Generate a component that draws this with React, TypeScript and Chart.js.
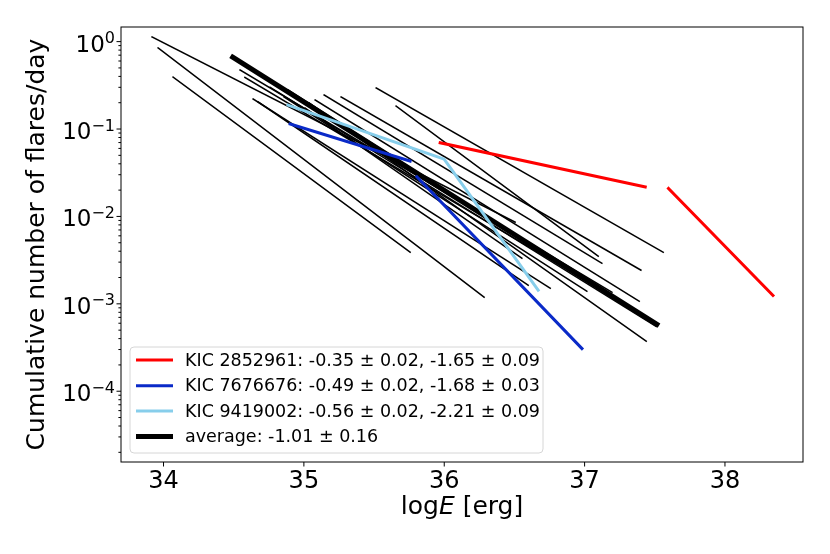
import React, { useEffect, useRef } from 'react';
import Chart from 'chart.js/auto';

// axis ranges and ticks
const xMin = 33.697;
const xMax = 38.556;
const yMin = 1.55e-5;
const yMax = 1.47;
const xTicks = [34, 35, 36, 37, 38];
const yMajorTicks = [1e-4, 1e-3, 1e-2, 1e-1, 1];
const yTickExponents = ['−4', '−3', '−2', '−1', '0'];

// single star fits (thin black): start / end of each line
const starLogEStart = [34.068, 33.961, 35.515, 35.657, 33.918, 34.638, 34.674, 34.859, 34.887, 35.037, 35.080, 35.144, 35.265, 35.009, 34.545, 34.580, 34.760];
const starRateStart = [0.394, 0.847, 0.295, 0.183, 1.132, 0.221, 0.204, 0.233, 0.280, 0.199, 0.215, 0.245, 0.233, 0.174, 0.474, 0.390, 0.300];
const starLogEEnd = [35.757, 36.284, 37.560, 37.097, 36.505, 36.755, 36.598, 37.016, 37.489, 37.439, 37.389, 37.123, 37.401, 36.553, 37.195, 37.460, 37.510];
const starRateEnd = [0.0039, 0.00119, 0.0039, 0.00351, 0.0086, 0.00151, 0.00163, 0.00139, 0.000615, 0.000373, 0.00107, 0.00292, 0.00243, 0.00333, 0.00136, 0.00068, 0.00055];

// average
const avgLogE = [34.493, 37.515];
const avgRate = [0.663, 0.000584];

// KIC 2852961 (broken power law)
const kic2852961LogE1 = [35.971, 37.432];
const kic2852961Rate1 = [0.0697, 0.0218];
const kic2852961LogE2 = [37.598, 38.342];
const kic2852961Rate2 = [0.0209, 0.00125];

// KIC 7676676
const kic7676676LogE1 = [34.902, 35.757];
const kic7676676Rate1 = [0.114, 0.043];
const kic7676676LogE2 = [35.805, 36.981];
const kic7676676Rate2 = [0.0284, 0.000308];

// KIC 9419002
const kic9419002LogE = [34.887, 35.999, 36.669];
const kic9419002Rate = [0.188, 0.0453, 0.00143];

const legendLabels = [
    'KIC 2852961: -0.35 ± 0.02, -1.65 ± 0.09',
    'KIC 7676676: -0.49 ± 0.02, -1.68 ± 0.03',
    'KIC 9419002: -0.56 ± 0.02, -2.21 ± 0.09',
    'average: -1.01 ± 0.16',
];
const legendColors = ['#ff0000', '#0a2ac8', '#87ceeb', '#000000'];
const legendWidths = [3, 3, 3, 5];

const FONT = '"DejaVu Sans", sans-serif';

const toPoints = (xs: number[], ys: number[]) => xs.map((x, i) => ({ x, y: ys[i] }));

const yMinorTicks: number[] = [];
for (let p = -5; p <= 0; p++) {
    for (let k = 2; k <= 9; k++) {
        const v = k * Math.pow(10, p);
        if (v >= yMin && v <= yMax) yMinorTicks.push(v);
    }
}

const decorPlugin = {
    id: 'decor',
    afterDraw(chart: any) {
        const { ctx, chartArea: a, scales } = chart;
        ctx.save();

        // frame
        ctx.strokeStyle = '#000';
        ctx.lineWidth = 1;
        ctx.strokeRect(a.left, a.top, a.right - a.left, a.bottom - a.top);

        // tick marks
        ctx.beginPath();
        xTicks.forEach(v => {
            const px = scales.x.getPixelForValue(v);
            ctx.moveTo(px, a.bottom);
            ctx.lineTo(px, a.bottom + 4.5);
        });
        yMajorTicks.forEach(v => {
            const py = scales.y.getPixelForValue(v);
            ctx.moveTo(a.left - 4.5, py);
            ctx.lineTo(a.left, py);
        });
        yMinorTicks.forEach(v => {
            const py = scales.y.getPixelForValue(v);
            ctx.moveTo(a.left - 2.6, py);
            ctx.lineTo(a.left, py);
        });
        ctx.stroke();

        // y tick labels: 10 with raised exponent
        ctx.fillStyle = '#000';
        ctx.textBaseline = 'alphabetic';
        ctx.textAlign = 'left';
        yMajorTicks.forEach((v, i) => {
            const py = scales.y.getPixelForValue(v);
            ctx.font = `16px ${FONT}`;
            const ew = ctx.measureText(yTickExponents[i]).width;
            ctx.font = `23px ${FONT}`;
            const bw = ctx.measureText('10').width;
            const x0 = a.left - 6 - ew - bw;
            ctx.fillText('10', x0, py + 10);
            ctx.font = `16px ${FONT}`;
            ctx.fillText(yTickExponents[i], x0 + bw, py + 1.5);
        });

        // x label with italic E
        const parts = [
            { t: 'log', f: `25px ${FONT}` },
            { t: 'E', f: `italic 25px ${FONT}` },
            { t: ' [erg]', f: `25px ${FONT}` },
        ];
        let total = 0;
        parts.forEach(p => { ctx.font = p.f; total += ctx.measureText(p.t).width; });
        let cx = (a.left + a.right) / 2 - total / 2;
        parts.forEach(p => {
            ctx.font = p.f;
            ctx.fillText(p.t, cx, 514);
            cx += ctx.measureText(p.t).width;
        });

        // y label
        ctx.save();
        ctx.translate(37, (a.top + a.bottom) / 2);
        ctx.rotate(-Math.PI / 2);
        ctx.textAlign = 'center';
        ctx.textBaseline = 'middle';
        ctx.font = `25px ${FONT}`;
        ctx.fillText('Cumulative number of flares/day', 0, 0);
        ctx.restore();

        // legend
        const bx = 130, by = 347, bw = 413, bh = 106;
        ctx.beginPath();
        ctx.roundRect(bx, by, bw, bh, 4);
        ctx.fillStyle = 'rgba(255,255,255,0.8)';
        ctx.fill();
        ctx.strokeStyle = '#d6d6d6';
        ctx.lineWidth = 1;
        ctx.stroke();
        const rowsY = [360, 385.7, 411, 436.5];
        legendLabels.forEach((label, i) => {
            ctx.beginPath();
            ctx.strokeStyle = legendColors[i];
            ctx.lineWidth = legendWidths[i];
            ctx.lineCap = 'butt';
            ctx.moveTo(136, rowsY[i]);
            ctx.lineTo(173, rowsY[i]);
            ctx.stroke();
            ctx.fillStyle = '#000';
            ctx.font = `17.5px ${FONT}`;
            ctx.textAlign = 'left';
            ctx.textBaseline = 'middle';
            ctx.fillText(label, 185, rowsY[i] + 1);
        });

        ctx.restore();
    },
};

const lineSet = (data: { x: number; y: number }[], color: string, width: number) => ({
    data,
    borderColor: color,
    borderWidth: width,
    pointRadius: 0,
    showLine: true,
    fill: false,
    tension: 0,
    borderCapStyle: 'square' as const,
    borderJoinStyle: 'round' as const,
});

const App: React.FC = () => {
    const canvasRef = useRef<HTMLCanvasElement>(null);
    const chartRef = useRef<Chart>();

    useEffect(() => {
        document.body.style.margin = '0';
        if (!canvasRef.current) return;
        if (chartRef.current) chartRef.current.destroy();

        const datasets: any[] = [
            lineSet(toPoints(kic9419002LogE, kic9419002Rate), '#87ceeb', 3),
            lineSet(toPoints(kic7676676LogE1, kic7676676Rate1), '#0a2ac8', 3),
            lineSet(toPoints(kic7676676LogE2, kic7676676Rate2), '#0a2ac8', 3),
            lineSet(toPoints(kic2852961LogE1, kic2852961Rate1), '#ff0000', 3),
            lineSet(toPoints(kic2852961LogE2, kic2852961Rate2), '#ff0000', 3),
            lineSet(toPoints(avgLogE, avgRate), '#000000', 5),
        ];
        starLogEStart.forEach((x0, i) => {
            datasets.push(lineSet([
                { x: x0, y: starRateStart[i] },
                { x: starLogEEnd[i], y: starRateEnd[i] },
            ], '#000000', 1.5));
        });

        chartRef.current = new Chart(canvasRef.current, {
            type: 'scatter',
            data: { datasets },
            options: {
                animation: false,
                responsive: true,
                maintainAspectRatio: false,
                layout: { padding: { left: 0, top: 27, right: 27, bottom: 0 } },
                plugins: {
                    legend: { display: false },
                    tooltip: { enabled: false },
                },
                scales: {
                    x: {
                        type: 'linear',
                        min: xMin,
                        max: xMax,
                        grid: { display: false },
                        border: { display: false },
                        afterBuildTicks: (scale: any) => {
                            scale.ticks = xTicks.map(v => ({ value: v }));
                        },
                        afterFit: (scale: any) => { scale.height = 92; },
                        ticks: {
                            autoSkip: false,
                            maxRotation: 0,
                            padding: -3,
                            color: '#000',
                            font: { family: FONT, size: 24 },
                            callback: (v: any) => String(v),
                        },
                    },
                    y: {
                        type: 'logarithmic',
                        min: yMin,
                        max: yMax,
                        grid: { display: false },
                        border: { display: false },
                        afterBuildTicks: (scale: any) => {
                            scale.ticks = yMajorTicks.map(v => ({ value: v }));
                        },
                        afterFit: (scale: any) => { scale.width = 121; },
                        ticks: {
                            autoSkip: false,
                            padding: 6,
                            font: { family: FONT, size: 24 },
                            // drawn by the decor plugin with a raised exponent
                            callback: () => '',
                        },
                    },
                },
            },
            plugins: [decorPlugin],
        });

        return () => {
            if (chartRef.current) {
                chartRef.current.destroy();
                chartRef.current = undefined;
            }
        };
    }, []);

    return (
        <div style={{ width: 830, height: 554, position: 'relative' }}>
            <canvas ref={canvasRef}></canvas>
        </div>
    );
};

export default App;
